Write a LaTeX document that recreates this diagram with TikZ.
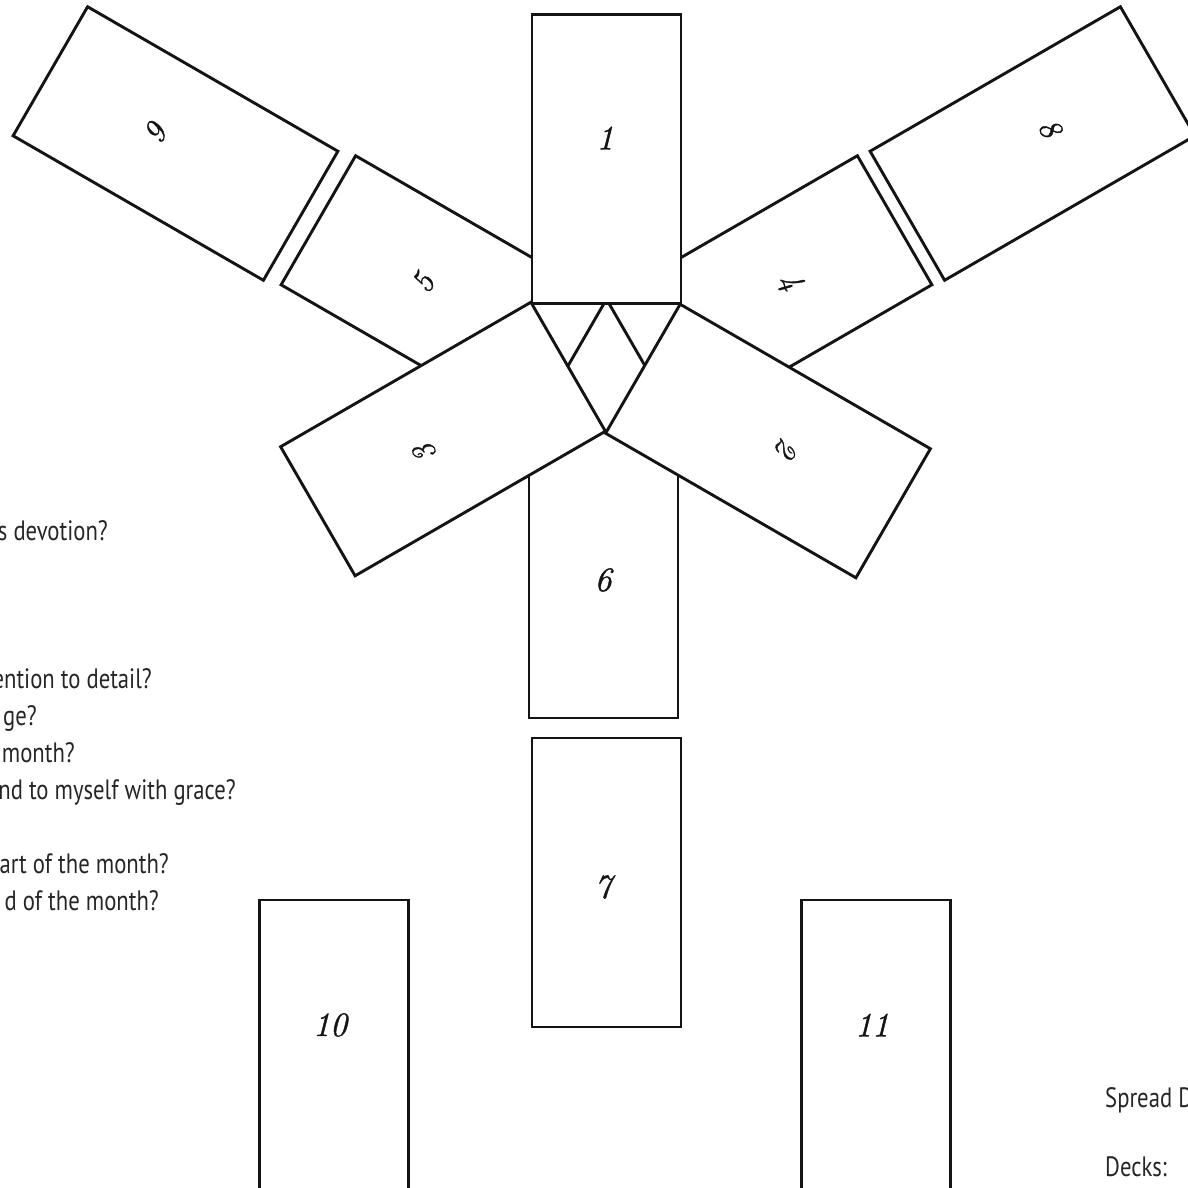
\documentclass[tikz,border=0pt]{standalone}
\usepackage{fontspec}
\newfontfamily\txtfont{PT Sans}[FakeStretch=0.81]
\newfontfamily\numfont{Latin Modern Roman}[FakeBold=1.2]
\begin{document}
\begin{tikzpicture}[x=1pt,y=-1pt,
  card/.style={draw=black!92, fill=white, line width=2.9pt, minimum width=149pt,
    minimum height=289pt, inner sep=0pt, outer sep=0pt, line join=miter},
  numup/.style={font=\numfont\fontsize{34}{34}\selectfont\itshape, inner sep=0pt, text=black!92},
  numrot/.style={font=\numfont\fontsize{32}{32}\selectfont\itshape, inner sep=0pt, text=black!92},
  qtext/.style={font=\txtfont\fontsize{28}{34}\selectfont, text=black!85, inner sep=0pt},
]
\useasboundingbox (0,0) rectangle (1188,1187);
\clip (0,0) rectangle (1188,1187);

% cards lying underneath
\node[card, rotate=60]  (c9)  at (175.5,143.5) {};
\node[card, rotate=-60] (c8)  at (1032.5,143.5) {};
\node[card, minimum height=286pt] (c6) at (603.5,575) {};
\node[card, rotate=60]  (c5)  at (443.5,292.5) {};
\node[card, rotate=-60] (c4)  at (769.5,292.5) {};
\node[card] (c7)  at (606.5,882.5) {};
\node[card] (c10) at (334,1044.5) {};
\node[card] (c11) at (876,1044.5) {};
% cards on top
\node[card] (c1) at (606.5,159) {};
\node[card, rotate=120]  (c3) at (443,439) {};
\node[card, rotate=-120] (c2) at (768,441) {};

% card numbers
\node[numup] (n1)  at (605,138)  {1};
\node[numup] (n6)  at (603,580)  {6};
\node[numup] (n7)  at (603,887)  {7};
\node[numup] (n10) at (330,1025) {10};
\node[numup] (n11) at (872,1025) {11};
\node[numrot, rotate=60]   (n9) at (155,133)  {9};
\node[numrot, rotate=60]   (n5) at (423,283)  {5};
\node[numrot, rotate=120]  (n3) at (425,453)  {3};
\node[numrot, rotate=-120] (n2) at (787,448)  {2};
\node[numrot, rotate=-60]  (n4) at (790,282)  {4};
\node[numrot, rotate=-60]  (n8) at (1050,128) {8};

% question text (cut by the left edge)
\node[qtext, anchor=base east] (q1) at (108,540) {s devotion?};
\node[qtext, anchor=base east] (q2) at (152,688) {ention to detail?};
\node[qtext, anchor=base east] (q3) at (37,725)  {ge?};
\node[qtext, anchor=base east] (q4) at (75,762)  {month?};
\node[qtext, anchor=base east] (q5) at (236,799) {nd to myself with grace?};
\node[qtext, anchor=base east] (q6) at (169,873) {art of the month?};
\node[qtext, anchor=base east] (q7) at (159,910) {d of the month?};
% notes (cut by the right edge)
\node[qtext, anchor=base west] (s1) at (1105,1107) {Spread D};
\node[qtext, anchor=base west] (s2) at (1105,1176) {Decks:};
\end{tikzpicture}
\end{document}
